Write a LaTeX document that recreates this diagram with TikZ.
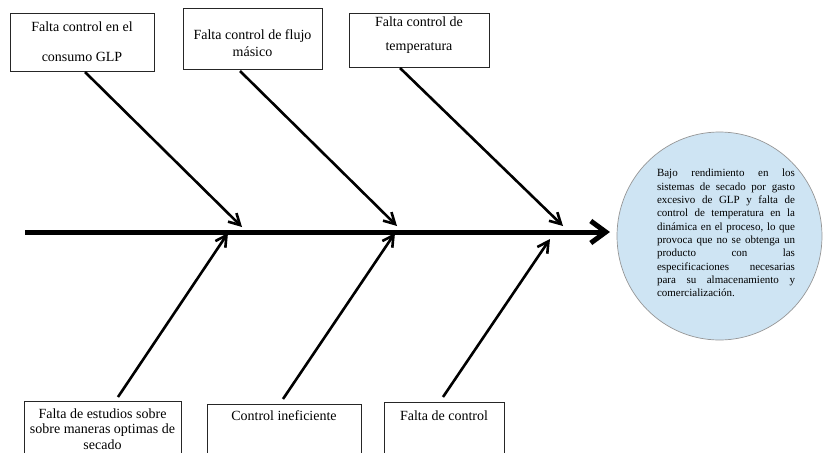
\documentclass[tikz,border=0pt]{standalone}
\usepackage{fontspec}
\setmainfont{Liberation Serif}
\usetikzlibrary{arrows.meta,shapes.geometric}
\definecolor{circfill}{RGB}{206,228,243}
\definecolor{circline}{RGB}{150,150,150}
\newcommand\jline[1]{\hbox to 138pt{\spaceskip=0.25em plus 1fil\relax #1}}
\begin{document}
\begin{tikzpicture}[x=1pt,y=-1pt,
  causebox/.style={draw=black!85, line width=0.8pt, inner sep=0pt},
  boxtext/.style={align=center, inner sep=0pt},
  bone/.style={line width=2.6pt, -{Straight Barb[length=11pt,width=12pt]}},
  spine/.style={line width=5pt, -{Straight Barb[length=15pt,width=22pt]}}]
\clip (0,0) rectangle (823,453);
% effect ellipse
\node[draw=circline, line width=0.7pt, fill=circfill, ellipse, minimum width=205pt, minimum height=208pt, inner sep=0pt] (eff) at (719.5,236) {};
\node[font=\fontsize{11}{13.33}\selectfont, text width=138pt, inner sep=0pt] (efftext) at (726,233) {%
\jline{Bajo rendimiento en los}
\jline{sistemas de secado por gasto}
\jline{excesivo de GLP y falta de}
\jline{control de temperatura en la}
\jline{dinámica en el proceso, lo que}
\jline{provoca que no se obtenga un}
\jline{producto con las}
\jline{especificaciones necesarias}
\jline{para su almacenamiento y}
\hbox{comercialización.}};
% cause boxes
\node[causebox, minimum width=144pt, minimum height=58pt] (b1) at (82,42) {};
\node[causebox, minimum width=139pt, minimum height=61pt] (b2) at (252.5,38.5) {};
\node[causebox, minimum width=140pt, minimum height=54pt] (b3) at (419,40) {};
\node[causebox, minimum width=157pt, minimum height=69pt] (b4) at (102.5,435.5) {};
\node[causebox, minimum width=154pt, minimum height=66pt] (b5) at (284,437) {};
\node[causebox, minimum width=120pt, minimum height=68pt] (b6) at (444,436) {};
% texts
\node[boxtext, font=\fontsize{14}{30}\selectfont] (t1) at (82,42) {Falta control en el\\consumo GLP};
\node[boxtext, font=\fontsize{14}{17}\selectfont] (t2) at (252.5,43.5) {Falta control de flujo\\másico};
\node[boxtext, font=\fontsize{14}{24}\selectfont] (t3) at (419,35) {Falta control de\\temperatura};
\node[boxtext, font=\fontsize{14}{15.5}\selectfont] (t4) at (102.5,429) {Falta de estudios sobre\\sobre maneras optimas de\\secado};
\node[boxtext, font=\fontsize{14}{15.5}\selectfont] (t5) at (284,416) {Control ineficiente};
\node[boxtext, font=\fontsize{14}{15.5}\selectfont] (t6) at (444,416) {Falta de control};
% spine
\coordinate (sp0) at (25,232);
\coordinate (sp1) at (610,232);
\draw[spine] (sp0) -- (sp1);
% top bones
\coordinate (s1) at (85,72);   \coordinate (e1) at (242,227);
\coordinate (s2) at (240,71);  \coordinate (e2) at (397,226);
\coordinate (s3) at (400,68);  \coordinate (e3) at (563,226);
\draw[bone] (s1) -- (e1);
\draw[bone] (s2) -- (e2);
\draw[bone] (s3) -- (e3);
% bottom bones
\coordinate (s4) at (118,397); \coordinate (e4) at (228,233);
\coordinate (s5) at (283,399); \coordinate (e5) at (395,233);
\coordinate (s6) at (443,397); \coordinate (e6) at (550,239);
\draw[bone] (s4) -- (e4);
\draw[bone] (s5) -- (e5);
\draw[bone] (s6) -- (e6);
\end{tikzpicture}
\end{document}
